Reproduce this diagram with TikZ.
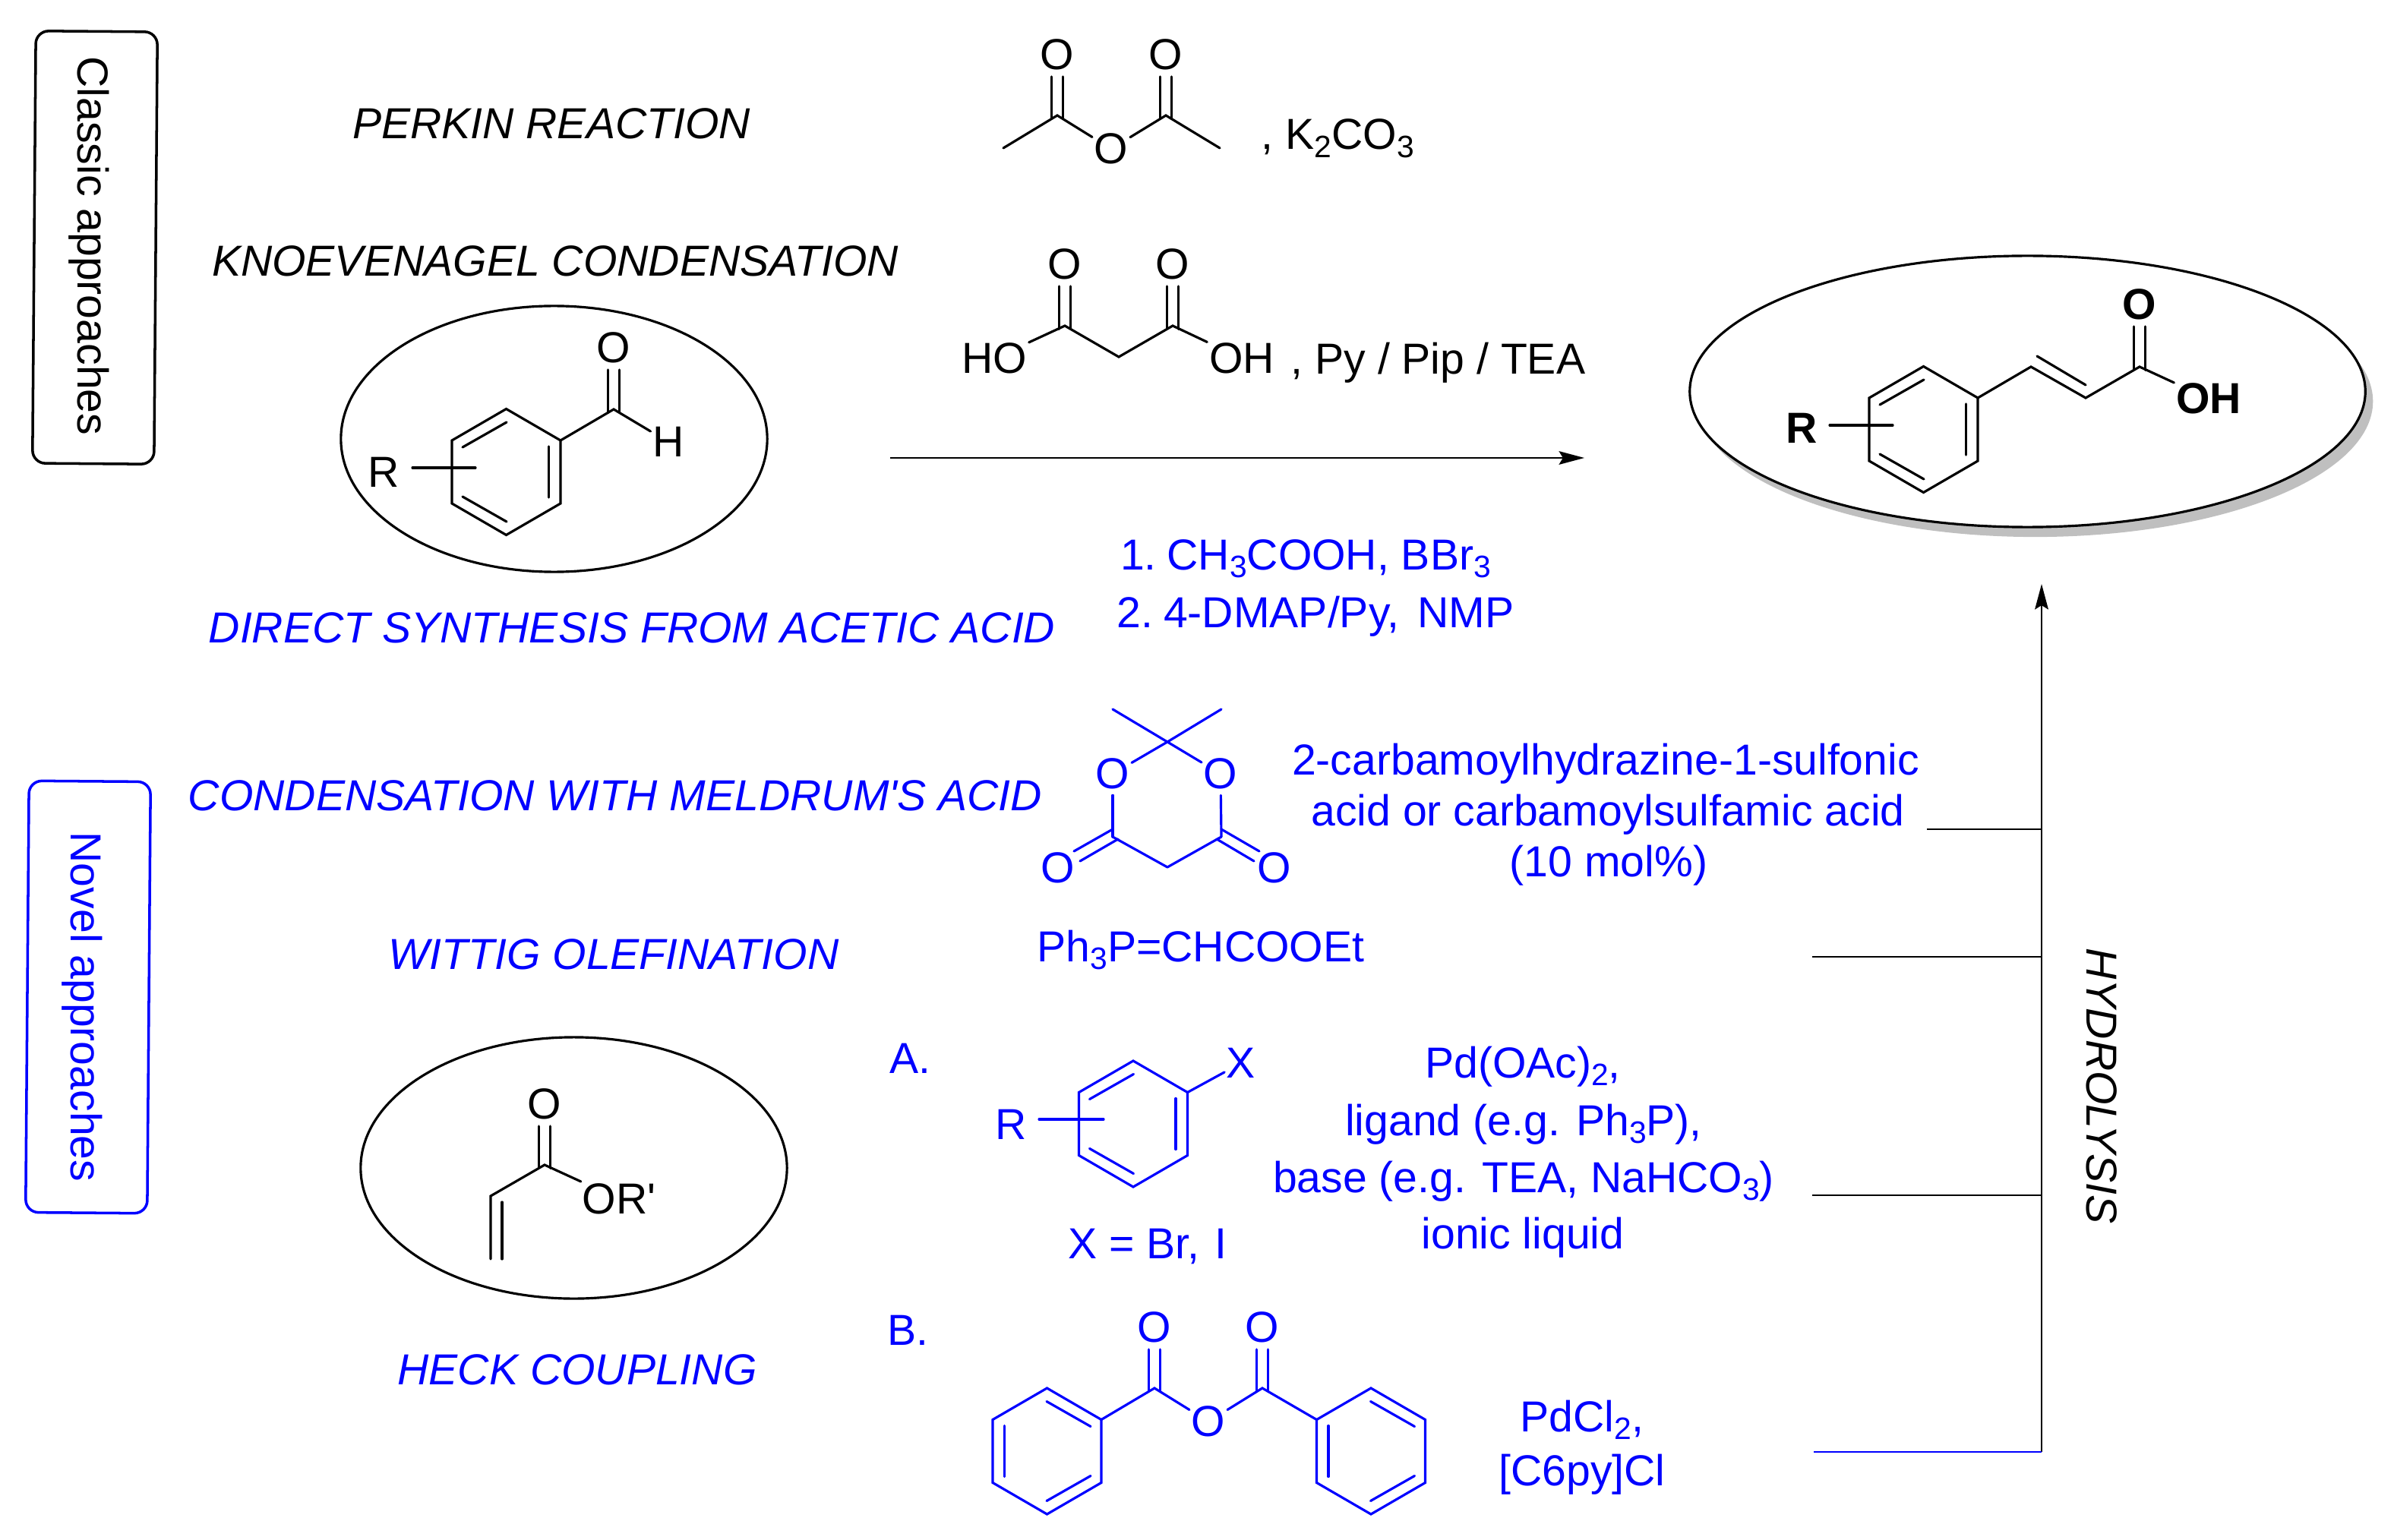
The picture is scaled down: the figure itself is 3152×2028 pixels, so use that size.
\documentclass[tikz,border=0pt]{standalone}
\usepackage{fontspec}
\setmainfont{Liberation Sans}
\usetikzlibrary{positioning,calc,arrows.meta,shapes.geometric,shadows}

\newcommand{\chemsub}[1]{\raisebox{-3pt}{\fontsize{11.6}{12}\selectfont #1}}
\newcommand{\benzring}[4]{%
  \begin{scope}[shift={(#2,#3)},xscale=#4]
  \foreach \i/\rx/\ry in {1/0/-83,2/71.5/-41.5,3/71.5/41.5,4/0/83,5/-71.5/41.5,6/-71.5/-41.5}
    \coordinate (#1-\i) at (\rx,\ry);
  \draw[bond] (#1-1) -- (#1-2) -- (#1-3) -- (#1-4) -- (#1-5) -- (#1-6) -- cycle;
  \draw[bond] (56,-33.5) -- (56,33.5);
  \draw[bond] (-57.5,-32.5) -- (.5,-65.5);
  \draw[bond] (-57.5,32.5) -- (.5,65.5);
  \end{scope}}
\newcommand{\dblbond}[2]{%
  \draw[bond,shorten >=1.7pt,shorten <=-1.2pt] ([xshift=-.073cm]#1) -- ([xshift=-.073cm]#2.south);
  \draw[bond,shorten >=1.7pt,shorten <=-1.2pt] ([xshift=.073cm]#1) -- ([xshift=.073cm]#2.south);}

\begin{document}
\begin{tikzpicture}[
x=0.01cm,
y=-0.01cm,
bond/.style={line width=0.9pt,line cap=round},
link/.style={line width=0.8pt},
lab/.style={anchor=base,inner sep=0pt,font=\fontsize{16.25}{19}\selectfont},
title/.style={lab,font=\fontsize{16.25}{19}\selectfont\itshape},
atom/.style={inner sep=0.6pt,font=\fontsize{16.25}{19}\selectfont},
atomb/.style={atom,font=\fontsize{16.25}{19}\selectfont\bfseries},
oval/.style={ellipse,draw,line width=0.9pt,inner sep=0pt,fill=white},
tag/.style={draw,line width=1pt,rounded corners=0.17cm,rotate=-0.45,inner sep=0pt},
>={Stealth[length=9.5pt,width=5pt,inset=1.5pt]}
]
\useasboundingbox (0,0) rectangle (3152,2028);

% side tags
\node[tag,minimum width=1.6cm,minimum height=5.69cm] (classic) at (125,326) {};
\node[tag,blue,minimum width=1.6cm,minimum height=5.68cm] (novel) at (116,1313) {};
\node[lab,rotate=-90] (classictxt) at (102,324) {Classic approaches};
\node[lab,rotate=-90,blue] (noveltxt) at (93,1326) {Novel approaches};

% ovals
\node[oval,minimum width=5.61cm,minimum height=3.5cm] (aldoval) at (729.5,578) {};
\node[oval,minimum width=5.61cm,minimum height=3.44cm] (esteroval) at (755.5,1538) {};
\node[oval,minimum width=8.89cm,minimum height=3.57cm,
  drop shadow={opacity=1,fill=black!25,shadow xshift=.1cm,shadow yshift=-.13cm}] (prodoval) at (2669.5,515.5) {};

% black texts
\foreach \nm/\x/\y/\txt in {perkin/726/183/PERKIN REACTION,knoev/731/364/KNOEVENAGEL CONDENSATION}
  \node[title] (\nm) at (\x,\y) {\txt};

% blue texts
\foreach \nm/\x/\y/\txt in {direct/832/846/DIRECT SYNTHESIS FROM ACETIC ACID,
  meldrum/810/1067/CONDENSATION WITH MELDRUM\textquotesingle S ACID,
  wittig/808/1276/WITTIG OLEFINATION,heck/760/1823/HECK COUPLING}
  \node[title,blue] (\nm) at (\x,\y) {\txt};
\foreach \nm/\x/\y/\txt in {dir1/1719/750/{1.\hspace{.24em}CH\chemsub{3}COOH, BBr\chemsub{3}},
  dir2/1732/826/{2.\hspace{.24em}4-DMAP/Py,\hspace{.42em}NMP},
  cat1/2114/1020/2-carbamoylhydrazine-1-sulfonic,
  cat2/2117/1087/acid or carbamoylsulfamic acid,
  cat3/2118/1154/(10 mol\%),
  ylide/1581/1266/Ph\chemsub{3}P=CHCOOEt,
  parta/1198/1413/A.,partb/1195/1771/B.,
  halide/1511/1657/{X = Br,\hspace{.36em}I},
  pd1/2005/1419/{Pd(OAc)\chemsub{2},},
  pd2/2006/1495/{ligand (e.g. Ph\chemsub{3}P),},
  pd3/2006/1570/{base (e.g. TEA, NaHCO\chemsub{3})},
  pd4/2005/1644/ionic liquid,
  pdb1/2083/1885/{PdCl\chemsub{2},},
  pdb2/2083/1956/[C6py]Cl}
  \node[lab,blue] (\nm) at (\x,\y) {\txt};

% reagents top
\node[lab,anchor=base west] (k2co3) at (1660,197) {, K\chemsub{2}CO\chemsub{3}};
\node[lab,anchor=base west] (pybase) at (1699,493) {, Py / Pip / TEA};

% acetic anhydride
\foreach \nm/\x/\y in {acm1/1321/195,acc1/1392/152,acc2/1535/152,acm2/1606/195}
  \coordinate (\nm) at (\x,\y);
\node[atom] (aco1) at (1392,72) {O};
\node[atom] (aco2) at (1535,72) {O};
\node[atom] (acob) at (1463,196) {O};
\draw[bond] (acm1) -- (acc1) -- (acob);
\draw[bond] (acob) -- (acc2) -- (acm2);
\dblbond{acc1}{aco1}
\dblbond{acc2}{aco2}

% malonic acid
\foreach \nm/\x/\y in {mac1/1402/429,mac2/1473/470,mac3/1544/429}
  \coordinate (\nm) at (\x,\y);
\node[atom] (mao1) at (1402,348) {O};
\node[atom] (mao2) at (1544,348) {O};
\node[atom] (maho) at (1309,472) {HO};
\node[atom] (maoh) at (1635,472) {OH};
\draw[bond] (maho) -- (mac1) -- (mac2) -- (mac3) -- (maoh);
\dblbond{mac1}{mao1}
\dblbond{mac3}{mao2}

% aldehyde
\benzring{ald}{666.5}{621.5}{1}
\coordinate (aldc) at (808,539);
\coordinate (alds1) at (543,616);
\coordinate (alds2) at (626,616);
\node[atom] (aldo) at (808,458) {O};
\node[atom] (aldh) at (880,582) {H};
\node[atom] (aldr) at (505,622) {R};
\draw[bond] (ald-2) -- (aldc) -- (aldh);
\draw[bond] (alds1) -- (alds2);
\dblbond{aldc}{aldo}

% cinnamic acid
\benzring{cin}{2532.5}{565.5}{1}
\foreach \nm/\x/\y in {cina/2674/483,cinb/2746/524,cinc/2817/483,cind/2682/469,cine/2746/507,cins1/2409/560,cins2/2492/560}
  \coordinate (\nm) at (\x,\y);
\node[atomb] (cino) at (2817,401) {O};
\node[atomb] (cinoh) at (2908,525) {OH};
\node[atomb] (cinr) at (2372,564) {R};
\draw[bond] (cin-2) -- (cina) -- (cinb) -- (cinc) -- (cinoh);
\draw[bond] (cind) -- (cine);
\draw[bond] (cins1) -- (cins2);
\dblbond{cinc}{cino}

% main arrow and hydrolysis trunk
\coordinate (mainl) at (1172,603);
\coordinate (mainr) at (2086,603);
\draw[link,->] (mainl) -- (mainr);
\coordinate (trunkb) at (2688,1912);
\coordinate (trunkt) at (2688,769);
\foreach \nm/\x/\y in {feeda/2537/1092,feedb/2386/1260,feedc/2386/1574}
  {\coordinate (\nm) at (\x,\y);
   \draw[link] (\nm) -- (\nm -| trunkb);}
\coordinate (feedd) at (2388,1912);
\draw[link,->] (trunkb) -- (trunkt);
\draw[link,blue] (feedd) -- (trunkb);
\node[title,rotate=-90] (hydro) at (2747,1430) {HYDROLYSIS};

\begin{scope}[blue]
% meldrum's acid
\foreach \nm/\x/\y in {mlc/1537/977,mlm1/1465/934,mlm2/1608/934,mlc4/1465/1102,mlc5/1537/1142,mlc6/1608/1102,
  mld1/1465/1092,mld2/1414/1121,mld3/1472/1105,mld4/1422/1134,mld5/1608/1092,mld6/1658/1121,mld7/1602/1105,mld8/1651/1134}
  \coordinate (\nm) at (\x,\y);
\node[atom] (mlo1) at (1465,1019) {O};
\node[atom] (mlo2) at (1607,1019) {O};
\node[atom] (mlo3) at (1393,1143) {O};
\node[atom] (mlo4) at (1678,1143) {O};
\foreach \a/\b in {mlm1/mlc,mlm2/mlc,mlo1/mlc,mlo2/mlc,mlc4/mlc5,mlc5/mlc6,mld1/mld2,mld3/mld4,mld5/mld6,mld7/mld8}
  \draw[bond] (\a) -- (\b);
\draw[bond,shorten <=1.5pt] (mlo1) -- (mlc4);
\draw[bond,shorten <=1.5pt] (mlo2) -- (mlc6);

% aryl halide
\benzring{arx}{1492}{1480}{1}
\coordinate (arxs1) at (1368,1474);
\coordinate (arxs2) at (1453,1474);
\node[atom] (arxx) at (1634,1400) {X};
\node[atom] (arxr) at (1331,1481) {R};
\draw[bond] (arx-2) -- (arxx);
\draw[bond] (arxs1) -- (arxs2);

% benzoic anhydride
\benzring{bzl}{1378.5}{1911}{-1}
\benzring{bzr}{1805}{1911}{-1}
\coordinate (bzc1) at (1520,1828);
\coordinate (bzc2) at (1662,1828);
\node[atom] (bzo1) at (1520,1748) {O};
\node[atom] (bzo2) at (1662,1748) {O};
\node[atom] (bzob) at (1591,1872) {O};
\draw[bond] (bzl-6) -- (bzc1) -- (bzob);
\draw[bond] (bzob) -- (bzc2) -- (bzr-2);
\dblbond{bzc1}{bzo1}
\dblbond{bzc2}{bzo2}
\end{scope}

% acrylate
\foreach \nm/\x/\y in {acrc/717/1534,acra/646/1575,acrb/646/1658,acrd/661/1583,acre/661/1658}
  \coordinate (\nm) at (\x,\y);
\node[atom] (acro) at (717,1454) {O};
\node[atom] (acror) at (815,1579) {OR\textquotesingle};
\draw[bond] (acrb) -- (acra) -- (acrc) -- (acror);
\draw[bond] (acrd) -- (acre);
\dblbond{acrc}{acro}
\end{tikzpicture}
\end{document}
